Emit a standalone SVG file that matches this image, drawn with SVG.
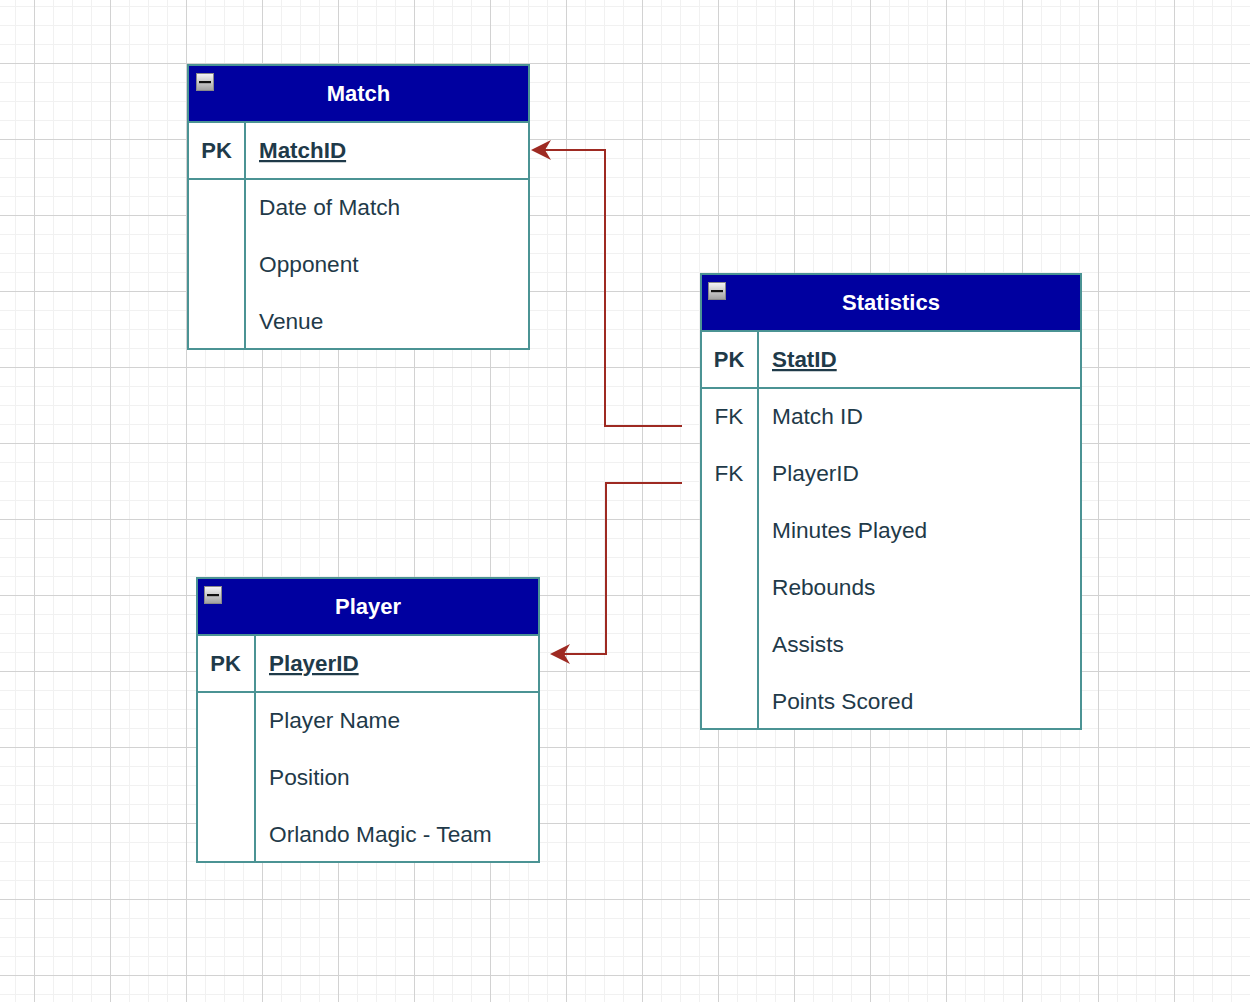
<svg xmlns="http://www.w3.org/2000/svg" width="1250" height="1002" viewBox="0 0 1250 1002">
<defs>
<pattern id="grid" patternUnits="userSpaceOnUse" x="34" y="63" width="76" height="76">
<path d="M19.5,0V76M38.5,0V76M57.5,0V76M0,19.5H76M0,38.5H76M0,57.5H76" stroke="#f1f1f1" stroke-width="1" fill="none"/>
<path d="M0.5,0V76M0,0.5H76" stroke="#d2d2d2" stroke-width="1" fill="none"/>
</pattern>
<linearGradient id="ico" x1="0" y1="0" x2="0" y2="1">
<stop offset="0" stop-color="#f6f6f6"/>
<stop offset="1" stop-color="#a0a0a0"/>
</linearGradient>
<marker id="arr" markerUnits="userSpaceOnUse" markerWidth="22" markerHeight="22" viewBox="0 0 22 22" refX="6" refY="10" orient="auto">
<path d="M0,0 L20,10 L0,20 L6,10 Z" fill="#9e2a22"/>
</marker>
<g id="minus">
<rect x="0.5" y="0.5" width="17" height="17" fill="url(#ico)" stroke="#8a8a8a" stroke-width="1"/>
<rect x="3" y="8" width="12" height="2.2" fill="#111"/>
</g>
</defs>
<style>
.box{fill:#ffffff;stroke:#4b9394;stroke-width:2}
.hdr{fill:#0000a0;stroke:#4b9394;stroke-width:2}
.ln{stroke:#4b9394;stroke-width:2;fill:none}
.ttl{font-family:"Liberation Sans",Arial,sans-serif;font-size:22px;font-weight:bold;fill:#ffffff;text-anchor:middle}
.key{font-family:"Liberation Sans",Arial,sans-serif;font-size:22px;font-weight:bold;fill:#1f3a49;text-anchor:middle}
.fk{font-family:"Liberation Sans",Arial,sans-serif;font-size:22.6px;fill:#1f3a49;text-anchor:middle}
.pk{font-family:"Liberation Sans",Arial,sans-serif;font-size:22.4px;font-weight:bold;fill:#1f3a49;text-decoration:underline}
.fld{font-family:"Liberation Sans",Arial,sans-serif;font-size:22.7px;fill:#1f3a49}
.edge{fill:none;stroke:#9e2a22;stroke-width:2;marker-end:url(#arr)}
</style>
<rect width="1250" height="1002" fill="#ffffff"/>
<rect width="1250" height="1002" fill="url(#grid)"/>

<g id="match">
<rect class="box" x="188" y="65" width="341" height="284"/>
<rect class="hdr" x="188" y="65" width="341" height="57"/>
<use href="#minus" x="196" y="73"/>
<text class="ttl" x="358.5" y="101">Match</text>
<path class="ln" d="M188,179H529M245,122V349"/>
<text class="key" x="216.5" y="158">PK</text>
<text class="pk" x="259" y="158">MatchID</text>
<text class="fld" x="259" y="215">Date of Match</text>
<text class="fld" x="259" y="272">Opponent</text>
<text class="fld" x="259" y="329">Venue</text>
</g>

<g id="statistics">
<rect class="box" x="701" y="274" width="380" height="455"/>
<rect class="hdr" x="701" y="274" width="380" height="57"/>
<use href="#minus" x="708" y="282"/>
<text class="ttl" x="891" y="310">Statistics</text>
<path class="ln" d="M701,388H1081M758,331V729"/>
<text class="key" x="729" y="367">PK</text>
<text class="pk" x="772" y="367">StatID</text>
<text class="fk" x="729" y="424">FK</text>
<text class="fld" x="772" y="424">Match ID</text>
<text class="fk" x="729" y="481">FK</text>
<text class="fld" x="772" y="481">PlayerID</text>
<text class="fld" x="772" y="538">Minutes Played</text>
<text class="fld" x="772" y="595">Rebounds</text>
<text class="fld" x="772" y="652">Assists</text>
<text class="fld" x="772" y="709">Points Scored</text>
</g>

<g id="player">
<rect class="box" x="197" y="578" width="342" height="284"/>
<rect class="hdr" x="197" y="578" width="342" height="57"/>
<use href="#minus" x="204" y="586"/>
<text class="ttl" x="368" y="614">Player</text>
<path class="ln" d="M197,692H539M255,635V862"/>
<text class="key" x="225.5" y="671">PK</text>
<text class="pk" x="269" y="671">PlayerID</text>
<text class="fld" x="269" y="728">Player Name</text>
<text class="fld" x="269" y="785">Position</text>
<text class="fld" x="269" y="842">Orlando Magic - Team</text>
</g>

<g id="connectors">
<path class="edge" d="M682,426H605V150H545"/>
<path class="edge" d="M682,483H606V654H564"/>
</g>
</svg>
